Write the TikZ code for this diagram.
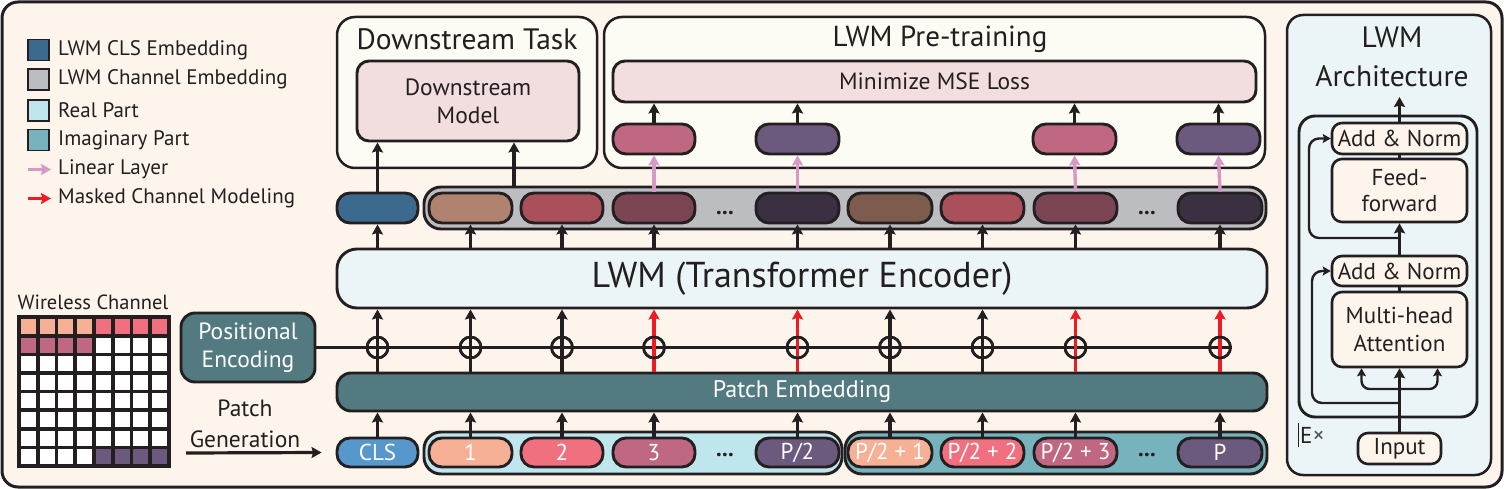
\documentclass[tikz,border=0pt]{standalone}
\usepackage{fontspec}
\setmainfont{PT Sans}
\usetikzlibrary{arrows.meta}
\definecolor{ink}{HTML}{231F20}
\definecolor{bgcream}{HTML}{FDF4EC}
\definecolor{ivory}{HTML}{FCFCF5}
\definecolor{lblue}{HTML}{EBF5F8}
\definecolor{clsdark}{HTML}{3C6A8E}
\definecolor{clsin}{HTML}{5798CC}
\definecolor{chgray}{HTML}{BCBDC0}
\definecolor{realc}{HTML}{BFE6EC}
\definecolor{imagc}{HTML}{77B3BC}
\definecolor{pemb}{HTML}{527A80}
\definecolor{lossc}{HTML}{F2DEDE}
\definecolor{tpeach}{HTML}{F6B095}
\definecolor{tred}{HTML}{F07080}
\definecolor{tmauve}{HTML}{C06882}
\definecolor{tpurp}{HTML}{6C5A7E}
\definecolor{otan}{HTML}{B08270}
\definecolor{ored}{HTML}{AA505A}
\definecolor{omauve}{HTML}{7B4553}
\definecolor{odark}{HTML}{3A3042}
\definecolor{obrown}{HTML}{7D5B4D}
\definecolor{linpink}{HTML}{D898C6}
\definecolor{mred}{HTML}{ED1C24}
\newcommand{\fs}[2]{\fontsize{#1}{#2}\selectfont}
\newcommand{\bx}[7]{\node[#2, minimum width={(#5)-(#3)}, minimum height={(#6)-(#4)}, inner sep=0pt] (#1) at ({((#3)+(#5))/2},{((#4)+(#6))/2}) {#7};}
\tikzset{
  tok/.style={draw=ink, line width=2.9, rounded corners=13, text=white, font=\fs{23}{27}},
  cont/.style={draw=ink, line width=2.9, rounded corners=17},
  panel/.style={draw=ink, line width=2.5, rounded corners=18, fill=ivory},
  lossbox/.style={draw=ink, line width=2.9, rounded corners=12, fill=lossc, text=ink, align=center},
  archbox/.style={draw=ink, line width=2.6, rounded corners=10, fill=bgcream, text=ink, align=center, font=\fs{23}{27}},
  legsq/.style={draw=ink, line width=1.6, minimum size=21, inner sep=0pt},
  legtxt/.style={anchor=west, text=ink, font=\fs{21}{25}, inner sep=0pt},
  arr/.style={draw=ink, line width=3.2, -{Stealth[length=10pt,width=11pt,inset=1.5pt]}},
  redarr/.style={draw=mred, line width=3.3, -{Stealth[length=10pt,width=11pt,inset=1.5pt]}},
  pinkarr/.style={draw=linpink, line width=3.4, -{Stealth[length=10pt,width=11pt,inset=1.5pt]}},
  thinarr/.style={draw=ink, line width=2.4, -{Stealth[length=8pt,width=9pt,inset=1.5pt]}},
  plusc/.style={circle, draw=ink, line width=2.6, minimum size=21, inner sep=0pt},
  dots/.style={text=ink, font=\fs{23}{27}\bfseries, inner sep=0pt}
}
\begin{document}
\begin{tikzpicture}[x=1pt,y=-1pt]
\useasboundingbox (0,0) rectangle (1504,489);
\draw[line width=3, draw=ink, fill=bgcream, rounded corners=16] (2,2) rectangle (1502,487);

% ---------- legend ----------
\node[legsq, fill=clsdark] (lg1) at (38.5,50) {};
\node[legsq, fill=chgray] (lg2) at (38.5,79.5) {};
\node[legsq, fill=realc] (lg3) at (38.5,110.5) {};
\node[legsq, fill=imagc] (lg4) at (38.5,140) {};
\node[legtxt] (lt1) at (58,50) {LWM CLS Embedding};
\node[legtxt] (lt2) at (58,79.5) {LWM Channel Embedding};
\node[legtxt] (lt3) at (58,110.5) {Real Part};
\node[legtxt] (lt4) at (58,140) {Imaginary Part};
\node[legtxt] (lt5) at (58,169.5) {Linear Layer};
\node[legtxt] (lt6) at (58,198.5) {Masked Channel Modeling};
\coordinate (la1) at (28,169.5); \coordinate (la2) at (51,169.5);
\coordinate (lb1) at (28,198.5); \coordinate (lb2) at (51,198.5);
\draw[pinkarr, line width=2.8] (la1) -- (la2);
\draw[redarr, line width=2.8] (lb1) -- (lb2);

% ---------- wireless channel ----------
\node[text=ink, font=\fs{20.5}{24}, inner sep=0pt] (wct) at (93,302) {Wireless Channel};
\fill[ink] (17,315) rectangle (171,468);
\foreach \i in {0,...,7}{\foreach \j in {0,...,7}{
  \fill[white] ({21+\i*18.7},{319+\j*18.6}) rectangle ++(15,15);}}
\foreach \i in {0,...,3}{
  \fill[tpeach] ({21+\i*18.7},319) rectangle ++(15,15);
  \fill[tmauve] ({21+\i*18.7},{319+18.6}) rectangle ++(15,15);}
\foreach \i in {4,...,7}{
  \fill[tred] ({21+\i*18.7},319) rectangle ++(15,15);
  \fill[tpurp] ({21+\i*18.7},{319+7*18.6}) rectangle ++(15,15);}

% ---------- positional encoding / patch generation ----------
\bx{pe}{draw=ink, line width=2.9, rounded corners=14, fill=pemb, text=white, align=center, font=\fs{23.5}{28}}{181}{313}{315}{382}{Positional\\Encoding}
\node[text=ink, align=center, font=\fs{23.5}{31}, inner sep=0pt] (pg) at (245,424) {Patch\\Generation};
\coordinate (pga) at (186,453);

% ---------- bottom token row ----------
\bx{realbox}{cont, fill=realc}{424}{432}{842}{474}{}
\bx{imagbox}{cont, fill=imagc}{845}{432}{1267}{474}{}
\bx{t0}{tok, fill=clsin}{337}{438}{418}{467}{CLS}
\bx{t1}{tok, fill=tpeach}{429}{438}{512}{467}{1}
\bx{t2}{tok, fill=tred}{521}{438}{603}{467}{2}
\bx{t3}{tok, fill=tmauve}{613}{438}{695}{467}{3}
\bx{t4}{tok, fill=tpurp}{756}{438}{839}{467}{P/2}
\bx{t5}{tok, fill=tpeach}{848}{438}{932}{467}{P/2 + 1}
\bx{t6}{tok, fill=tred}{941}{438}{1024}{467}{P/2 + 2}
\bx{t7}{tok, fill=tmauve}{1034}{438}{1117}{467}{P/2 + 3}
\bx{t8}{tok, fill=tpurp}{1178}{438}{1262}{467}{P}
\node[dots] (d1) at (725,455) {...};
\node[dots] (d2) at (1147,455) {...};
\draw[arr] (pga) -- ([xshift=-14]t0.west);

% ---------- patch embedding & encoder ----------
\bx{pemb}{draw=ink, line width=2.9, rounded corners=14, fill=pemb, text=white, font=\fs{24}{28}}{337}{373}{1267}{411}{Patch Embedding}
\bx{enc}{draw=ink, line width=2.9, rounded corners=20, fill=lblue, text=ink, font=\fs{36}{40}}{337}{249}{1267}{308}{LWM (Transformer Encoder)}

\foreach \k in {0,...,8}{\draw[arr] (t\k.north) -- (t\k.north |- pemb.south);}
\foreach \k in {0,...,8}{\node[plusc] (c\k) at (t\k.north |- pe.east) {};}
\draw[draw=ink, line width=2.9] (pe.east) -- (c8.east);
\foreach \k in {0,1,2,5,6}{\draw[arr] (t\k.north |- pemb.north) -- (t\k.north |- enc.south);}
\foreach \k in {3,4,7,8}{\draw[redarr] (t\k.north |- pemb.north) -- (t\k.north |- enc.south);}
\foreach \k in {0,...,8}{\node[plusc] at (c\k) {};}

% ---------- output row ----------
\bx{outbox}{cont, fill=chgray}{424}{187}{1266}{229}{}
\bx{o0}{tok, fill=clsdark}{337}{193}{418}{223}{}
\bx{o1}{tok, fill=otan}{429}{193}{512}{223}{}
\bx{o2}{tok, fill=ored}{521}{193}{603}{223}{}
\bx{o3}{tok, fill=omauve}{613}{193}{695}{223}{}
\bx{o4}{tok, fill=odark}{756}{193}{839}{223}{}
\bx{o5}{tok, fill=obrown}{848}{193}{932}{223}{}
\bx{o6}{tok, fill=ored}{941}{193}{1024}{223}{}
\bx{o7}{tok, fill=omauve}{1034}{193}{1117}{223}{}
\bx{o8}{tok, fill=odark}{1178}{193}{1262}{223}{}
\node[dots] (d3) at (725,213) {...};
\node[dots] (d4) at (1147,213) {...};
\foreach \k in {0,...,8}{\draw[arr] (t\k.north |- enc.north) -- (o\k.south);}

% ---------- downstream task ----------
\bx{dt}{panel}{337}{17}{597}{168}{}
\node[text=ink, font=\fs{29.5}{33}, inner sep=0pt] (dtt) at (467,39) {Downstream Task};
\bx{dm}{lossbox, font=\fs{23.5}{28}}{357}{61}{579}{141}{Downstream\\Model}
\coordinate (dsx) at (514,0);
\draw[arr] (o0.north) -- (o0.north |- dm.south);
\draw[arr] (dsx |- outbox.north) -- (dsx |- dm.south);

% ---------- pre-training ----------
\bx{pt}{panel}{604}{17}{1265}{168}{}
\node[text=ink, font=\fs{29}{33}, inner sep=0pt] (ptt) at (940,39) {LWM Pre-training};
\bx{mse}{lossbox, font=\fs{23.5}{27}}{613}{61}{1256}{102}{Minimize MSE Loss}
\bx{p3}{tok, fill=tmauve}{613}{124}{695}{154}{}
\bx{p4}{tok, fill=tpurp}{756}{124}{839}{154}{}
\bx{p7}{tok, fill=tmauve}{1033}{124}{1116}{154}{}
\bx{p8}{tok, fill=tpurp}{1177}{124}{1260}{154}{}
\foreach \k in {3,4,7,8}{
  \draw[pinkarr] (o\k.north) -- (p\k.south);
  \draw[arr] (p\k.north) -- (p\k.north |- mse.south);}

% ---------- LWM architecture ----------
\bx{arch}{draw=ink, line width=2.5, rounded corners=16, fill=lblue}{1287}{15}{1491}{475}{}
\node[text=ink, align=center, font=\fs{29.5}{39}, inner sep=0pt] (archt) at (1392,57) {LWM\\Architecture};
\bx{enb}{draw=ink, line width=2.9, rounded corners=16}{1299}{116}{1477}{417}{}
\bx{an1}{archbox}{1332}{123}{1467}{154}{Add \& Norm}
\bx{ff}{archbox, font=\fs{23}{26}}{1332}{159}{1467}{222}{Feed-\\forward}
\bx{an2}{archbox}{1332}{256}{1467}{286}{Add \& Norm}
\bx{mha}{archbox, font=\fs{23}{28}}{1332}{292}{1467}{367}{Multi-head\\Attention}
\bx{inp}{archbox}{1358}{433}{1441}{464}{Input}
\node[text=ink, anchor=west, font=\fs{23}{26}, inner sep=0pt] (ex) at (1300,435) {E\textcolor{ink!75}{\fs{24}{26}×}};
\draw[ink, line width=0.9] (1298,423) -- (1298,447);
\coordinate (topend) at (1400,97);
\draw[arr, line width=3.4] (inp.north) -- (inp.north |- mha.south);
\draw[thinarr, rounded corners=8] (inp.north |- 0,389) -| ([xshift=-38]mha.south);
\draw[thinarr, rounded corners=8] (inp.north |- 0,389) -| ([xshift=38]mha.south);
\draw[thinarr, rounded corners=10] (inp.north |- 0,403) -- (1312,403) -- (1312,0 |- an2.west) -- (an2.west);
\draw[draw=ink, line width=3.4] (mha.north) -- (an2.south);
\draw[arr, line width=3.4] (an2.north) -- (ff.south);
\draw[thinarr, rounded corners=10] (an2.north |- 0,238) -- (1309,238) -- (1309,0 |- an1.west) -- (an1.west);
\draw[draw=ink, line width=3.4] (ff.north) -- (an1.south);
\draw[arr, line width=3.4] (an1.north) -- (an1.north |- topend);
\end{tikzpicture}
\end{document}
